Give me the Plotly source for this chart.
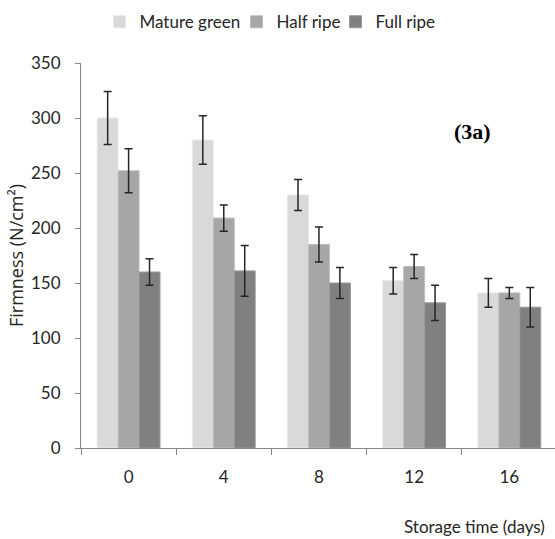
import plotly.graph_objects as go

# Storage time (days) and firmness (N/cm²) by ripening stage
days = ["0", "4", "8", "12", "16"]
mature_green = [300, 280, 230, 152, 141]
half_ripe = [252, 209, 185, 165, 141]
full_ripe = [160, 161, 150, 132, 128]

mature_green_err = [24, 22, 14, 12, 13]
half_ripe_err = [20, 12, 16, 11, 5]
full_ripe_err = [12, 23, 14, 16, 18]

series = [
    ("Mature green", mature_green, mature_green_err, "#d9d9d9", "#e8e8e8", 92),
    ("Half ripe", half_ripe, half_ripe_err, "#a6a6a6", "#bdbdbd", 54),
    ("Full ripe", full_ripe, full_ripe_err, "#808080", "#999999", 60),
]

FONT = "Lato, sans-serif"

fig = go.Figure()
for name, vals, errs, color, edge, lw in series:
    fig.add_trace(go.Bar(
        name=name,
        x=days,
        y=vals,
        legendwidth=lw,
        marker=dict(color=color, line=dict(color=edge, width=1)),
        error_y=dict(type="data", array=errs, visible=True,
                     color="#262626", thickness=1.5, width=4),
    ))

fig.update_layout(
    width=555, height=539,
    barmode="group",
    bargap=0.34,
    bargroupgap=0,
    plot_bgcolor="white",
    paper_bgcolor="white",
    margin=dict(l=81, r=0, t=63, b=91),
    font=dict(family=FONT, size=16, color="#262626"),
    showlegend=True,
    legend=dict(
        orientation="h",
        x=0.039, y=1.106, xanchor="left", yanchor="middle",
        font=dict(family=FONT, size=17, color="#262626"),
        itemwidth=30,
        tracegroupgap=0,
    ),
    xaxis=dict(
        type="category",
        range=[-0.5, 4.48],
        showline=True, linecolor="#868686", linewidth=1,
        ticks="outside", tickson="boundaries", ticklen=6, tickcolor="#868686",
        showgrid=False,
        tickfont=dict(size=17),
        ticklabelstandoff=14,
    ),
    yaxis=dict(
        range=[0, 350], dtick=50,
        showline=True, linecolor="#868686", linewidth=1,
        ticks="outside", ticklen=5, tickcolor="#868686",
        showgrid=False, zeroline=False,
        tickfont=dict(size=17),
        ticklabelstandoff=11,
        title=dict(text="Firmness (N/cm²)",
                   font=dict(family="Open Sans, sans-serif", size=18),
                   standoff=2),
    ),
    annotations=[
        dict(text="<b>(3a)</b>", x=0.825, y=0.823, xref="paper", yref="paper",
             showarrow=False, xanchor="center", yanchor="middle",
             font=dict(family="Liberation Serif, serif", size=22, color="black")),
        dict(text="Storage time (days)", x=0.983, y=-0.205, xref="paper", yref="paper",
             showarrow=False, xanchor="right", yanchor="middle",
             font=dict(family=FONT, size=17, color="#262626")),
    ],
)

fig.write_html("out.html")
